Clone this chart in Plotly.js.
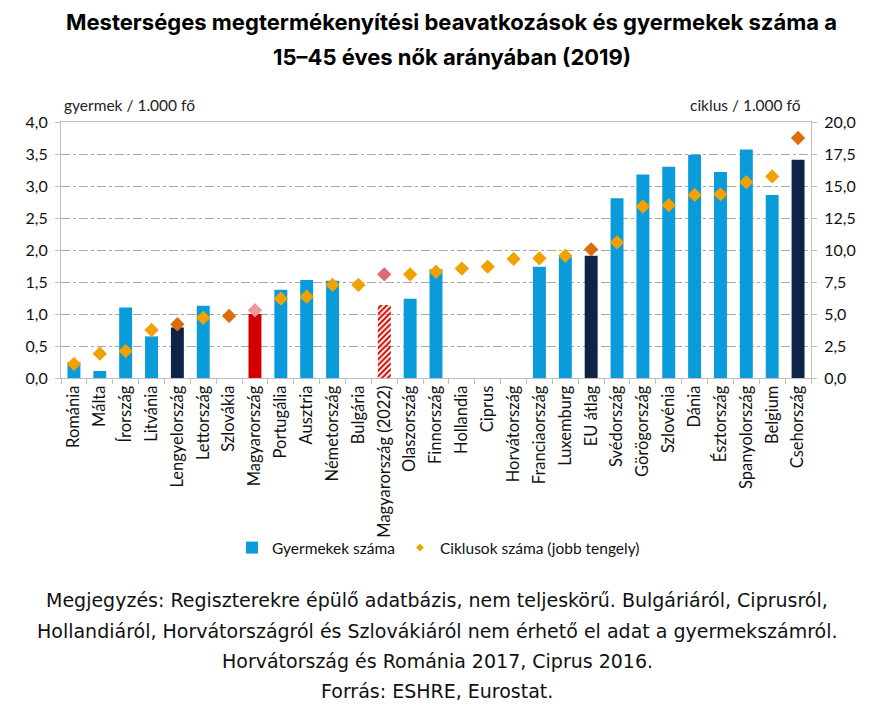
<!DOCTYPE html>
<html>
<head>
<meta charset="utf-8">
<script src="https://cdn.plot.ly/plotly-3.0.1.min.js"></script>
<style>html,body{margin:0;padding:0;background:#fff;}#chart{width:874px;height:715px;}</style>
</head>
<body>
<div id="chart"></div>
<script>
const categories = ["Románia","Málta","Írország","Litvánia","Lengyelország","Lettország","Szlovákia","Magyarország","Portugália","Ausztria","Németország","Bulgária","Magyarország (2022)","Olaszország","Finnország","Hollandia","Ciprus","Horvátország","Franciaország","Luxemburg","EU átlag","Svédország","Görögország","Szlovénia","Dánia","Észtország","Spanyolország","Belgium","Csehország"];
const childrenPer1000 = [0.25,0.11,1.10,0.65,0.79,1.13,null,1.00,1.38,1.53,1.52,null,1.14,1.24,1.70,null,null,null,1.74,1.90,1.91,2.81,3.18,3.30,3.49,3.22,3.57,2.86,3.41];
const cyclesPer1000 = [1.1,1.9,2.1,3.75,4.2,4.7,4.85,5.3,6.2,6.35,7.27,7.27,8.1,8.1,8.3,8.55,8.7,9.3,9.35,9.55,10.05,10.6,13.4,13.5,14.3,14.35,15.3,15.75,18.75];
const leftTickVals = [0,0.5,1,1.5,2,2.5,3,3.5,4];
const rightTickVals = [0,2.5,5,7.5,10,12.5,15,17.5,20];

const BLUE="#0A9BDB", NAVY="#0D2347", RED="#D20000";
const ORANGE="#F2A200", DORANGE="#DD6C0C", PINK="#F3979E", HATCH="#E06A72";
const barColors = categories.map(c=>{
  if (c==="Lengyelország"||c==="EU átlag"||c==="Csehország") return NAVY;
  if (c==="Magyarország"||c==="Magyarország (2022)") return RED;
  return BLUE;
});
const barPatterns = categories.map(c => c==="Magyarország (2022)" ? "/" : "");
const dotColors = categories.map(c=>{
  if (c==="Lengyelország"||c==="EU átlag"||c==="Csehország"||c==="Szlovákia") return DORANGE;
  if (c==="Magyarország") return PINK;
  if (c==="Magyarország (2022)") return HATCH;
  return ORANGE;
});

const FONT = "Lato, 'Open Sans', sans-serif";
const TFONT = "Inter, 'Open Sans', sans-serif";
const NFONT = "'DejaVu Sans', sans-serif";
const gridCol = "#A8A8A8", axisCol = "#BFBFBF";

const traces = [
  {type:"bar", x:categories, y:childrenPer1000, name:"Gyermekek száma", width:0.5,
   marker:{color:barColors, pattern:{shape:barPatterns, fgcolor:RED, size:4, solidity:0.5}},
   hoverinfo:"skip"},
  // small legend-key diamonds, fully hidden under the larger diamonds below
  {type:"scatter", mode:"markers", x:categories, y:cyclesPer1000, yaxis:"y2", name:"Ciklusok száma (jobb tengely)",
   marker:{symbol:"diamond", size:6, color:ORANGE}, hoverinfo:"skip"},
  {type:"scatter", mode:"markers", x:categories, y:cyclesPer1000, yaxis:"y2", name:"Ciklusok száma (jobb tengely)",
   marker:{symbol:"diamond", size:11, color:dotColors}, hoverinfo:"skip", showlegend:false}
];

const notes = [
  "Megjegyzés: Regiszterekre épülő adatbázis, nem teljeskörű. Bulgáriáról, Ciprusról,",
  "Hollandiáról, Horvátországról és Szlovákiáról nem érhető el adat a gyermekszámról.",
  "Horvátország és Románia 2017, Ciprus 2016.",
  "Forrás: ESHRE, Eurostat."
];
const noteY = [600,631,661,691];
const py = y => (378-y)/256;
const px = x => (x-61)/750;
const annotations = [
  {xref:"paper", yref:"paper", x:px(451), y:py(22), yanchor:"middle", xanchor:"center", showarrow:false,
   text:"<b>Mesterséges megtermékenyítési beavatkozások és gyermekek száma a</b>", font:{family:TFONT, size:22, color:"#000"}},
  {xref:"paper", yref:"paper", x:px(452), y:py(57), yanchor:"middle", xanchor:"center", showarrow:false,
   text:"<b>15–45 éves nők arányában (2019)</b>", font:{family:TFONT, size:22, color:"#000"}},
  {xref:"paper", yref:"paper", x:px(62), y:py(105), xanchor:"left", yanchor:"middle", showarrow:false,
   text:"gyermek / 1.000 fő", font:{family:FONT, size:15.5, color:"#222"}},
  {xref:"paper", yref:"paper", x:px(803), y:py(105), xanchor:"right", yanchor:"middle", showarrow:false,
   text:"ciklus / 1.000 fő", font:{family:FONT, size:15.5, color:"#222"}}
];
notes.forEach((t,i)=>annotations.push({xref:"paper", yref:"paper", x:px(437), y:py(noteY[i]),
  xanchor:"center", yanchor:"middle", showarrow:false, text:t, font:{family:NFONT, size:19, color:"#111"}}));

const layout = {
  width:874, height:715,
  margin:{l:61, r:63, t:122, b:337},
  paper_bgcolor:"#fff", plot_bgcolor:"#fff",
  separators:", ",
  showlegend:true,
  xaxis:{type:"category", tickangle:-90, tickson:"boundaries", ticks:"outside", ticklen:5, tickcolor:axisCol,
         showline:true, linecolor:axisCol, linewidth:1, mirror:true, showgrid:false,
         tickfont:{family:FONT, size:16.5, color:"#111"}, range:[-0.5,28.5]},
  yaxis:{range:[0,4], tickvals:leftTickVals, tickformat:".1f", showgrid:true, gridcolor:gridCol, griddash:"dashdot", gridwidth:1,
         showline:true, linecolor:axisCol, ticks:"outside", ticklen:5, tickcolor:axisCol, zeroline:false,
         tickfont:{family:FONT, size:16, color:"#111"}, ticklabelstandoff:4},
  yaxis2:{range:[0,20], overlaying:"y", side:"right", tickvals:rightTickVals, tickformat:".1f", showgrid:false,
          showline:true, linecolor:axisCol, ticks:"outside", ticklen:5, tickcolor:axisCol, zeroline:false,
          tickfont:{family:FONT, size:16, color:"#111"}, ticklabelstandoff:4},
  legend:{orientation:"h", x:px(232), xanchor:"left", y:py(548), yanchor:"middle",
          font:{family:FONT, size:15.5, color:"#111"}, traceorder:"normal", bgcolor:"rgba(0,0,0,0)"},
  annotations:annotations,
  bargap:0.5
};
Plotly.newPlot("chart", traces, layout, {staticPlot:true, displayModeBar:false});
</script>
</body>
</html>
